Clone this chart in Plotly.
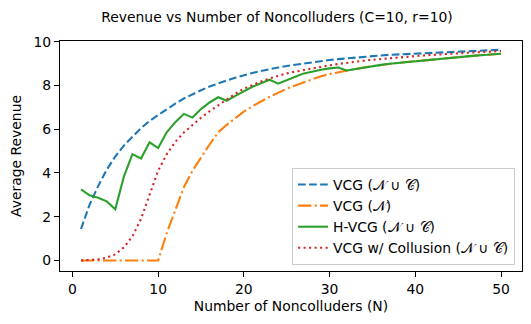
import plotly.graph_objects as go

N = list(range(1, 51))

vcg_all = [1.44, 2.55, 3.4, 4.15, 4.75, 5.25, 5.65, 6.05, 6.38, 6.65,
           6.92, 7.17, 7.4, 7.6, 7.78, 7.95, 8.1, 8.23, 8.35, 8.47,
           8.57, 8.66, 8.75, 8.82, 8.89, 8.95, 9.01, 9.06, 9.11, 9.16,
           9.2, 9.24, 9.28, 9.31, 9.34, 9.37, 9.4, 9.42, 9.44, 9.46,
           9.48, 9.5, 9.52, 9.54, 9.56, 9.57, 9.59, 9.6, 9.62, 9.63]

vcg_n = [0, 0, 0, 0, 0, 0, 0, 0, 0, 0,
         1.25, 2.35, 3.35, 4.1, 4.72, 5.3, 5.85, 6.2, 6.5, 6.8,
         7.05, 7.28, 7.48, 7.66, 7.85, 8.0, 8.15, 8.3, 8.42, 8.52,
         8.6, 8.68, 8.75, 8.82, 8.88, 8.94, 8.99, 9.03, 9.07, 9.11,
         9.15, 9.19, 9.23, 9.27, 9.30, 9.33, 9.36, 9.39, 9.42, 9.45]

hvcg = [3.25, 2.98, 2.87, 2.7, 2.34, 3.83, 4.86, 4.66, 5.4, 5.14,
        5.86, 6.32, 6.7, 6.53, 6.92, 7.22, 7.46, 7.3, 7.52, 7.74,
        7.94, 8.1, 8.26, 8.08, 8.25, 8.4, 8.55, 8.65, 8.72, 8.78,
        8.82, 8.68, 8.75, 8.82, 8.88, 8.94, 8.99, 9.03, 9.07, 9.11,
        9.15, 9.19, 9.23, 9.27, 9.30, 9.33, 9.36, 9.39, 9.42, 9.45]

vcg_coll = [0.0, 0.01, 0.05, 0.13, 0.28, 0.6, 1.1, 1.9, 3.0, 4.1,
            4.85, 5.42, 5.85, 6.2, 6.52, 6.82, 7.1, 7.38, 7.62, 7.85,
            8.03, 8.18, 8.32, 8.45, 8.55, 8.63, 8.71, 8.79, 8.86, 8.92,
            8.98, 9.04, 9.09, 9.13, 9.17, 9.21, 9.25, 9.28, 9.31, 9.34,
            9.37, 9.40, 9.42, 9.45, 9.47, 9.49, 9.51, 9.53, 9.55, 9.57]

names = ["VCG (𝒩 ∪ 𝒞)", "VCG (𝒩)", "H-VCG (𝒩 ∪ 𝒞)", "VCG w/ Collusion (𝒩 ∪ 𝒞)"]
colors = ["#1f77b4", "#ff7f0e", "#2ca02c", "#d62728"]
dashes = ["7.7px,3.3px", "13.3px,3.3px,2.1px,3.3px", "solid", "2.1px,3.4px"]
series = [vcg_all, vcg_n, hvcg, vcg_coll]

FONT = "DejaVu Sans"
FS = 13.9
fig = go.Figure()
for nm, c, d, ys in zip(names, colors, dashes, series):
    fig.add_trace(go.Scatter(x=N, y=ys, mode="lines", name=nm,
                             line=dict(color=c, width=2.1, dash=d)))

axis_common = dict(showline=True, linecolor="black", linewidth=1.1, mirror=True,
                   ticks="outside", ticklen=5, tickwidth=1.1, tickcolor="black",
                   showgrid=False, zeroline=False,
                   tickfont=dict(family=FONT, size=FS, color="black"))

fig.update_xaxes(range=[-1.45, 52.45], tickvals=[0, 10, 20, 30, 40, 50],
                 title=dict(text="Number of Noncolluders (N)", standoff=5,
                            font=dict(family=FONT, size=FS, color="black")),
                 **axis_common)
fig.update_yaxes(range=[-0.48, 10.03], tickvals=[0, 2, 4, 6, 8, 10],
                 title=dict(text="Average Revenue", standoff=8,
                            font=dict(family=FONT, size=FS, color="black")),
                 **axis_common)

# page body has an 8px default margin; the figure is sized to fit the window
W, H = 523, 316
fig.update_layout(
    width=W, height=H,
    margin=dict(l=49, r=8, t=33, b=53),
    paper_bgcolor="white", plot_bgcolor="white",
    font=dict(family=FONT, size=FS, color="black"),
    title=dict(text="Revenue vs Number of Noncolluders (C=10, r=10)",
               x=269 / W, xanchor="center", y=1 - 9 / H, yanchor="middle",
               font=dict(family=FONT, size=FS, color="black")),
    legend=dict(x=0.985, y=0.026, xanchor="right", yanchor="bottom",
                bgcolor="rgba(255,255,255,0.8)", bordercolor="#cccccc", borderwidth=1,
                font=dict(family=FONT, size=FS, color="black")),
)

fig.write_html("out.html")
